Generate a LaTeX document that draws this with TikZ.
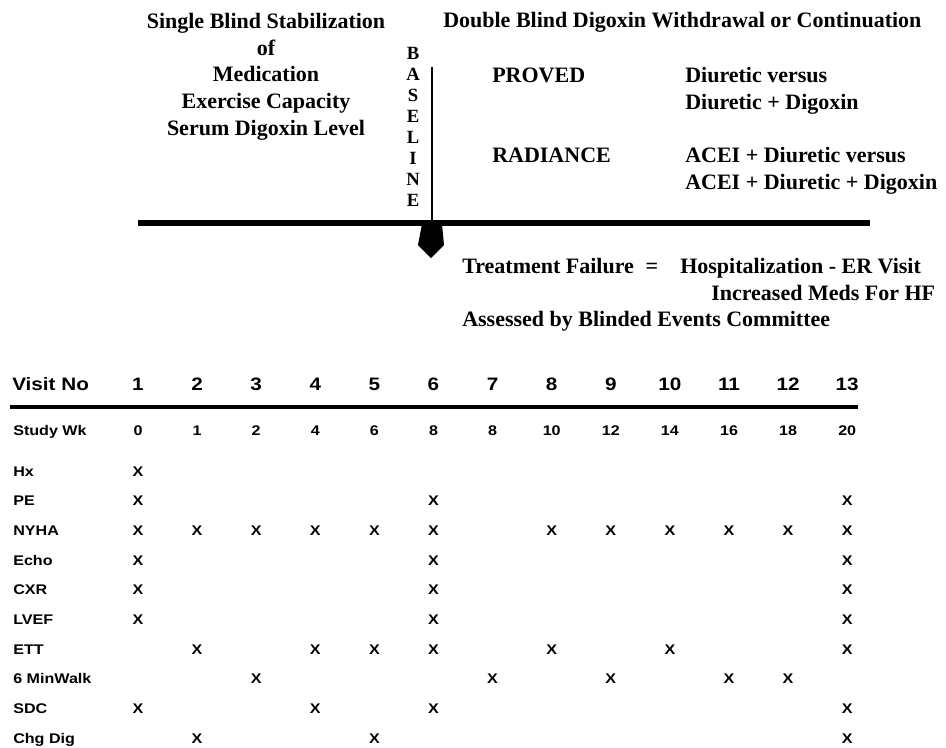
\documentclass[tikz,border=0pt]{standalone}
\usepackage{fontspec}
\setmainfont{Liberation Serif}
\newfontfamily\tabfont[FakeStretch=1.15]{Liberation Sans}
\begin{document}
\begin{tikzpicture}[x=0.75pt, y=-0.75pt,
    head/.style={font=\bfseries\fontsize{16.5}{19}\selectfont, inner sep=0pt, anchor=base},
    headw/.style={head, anchor=base west},
    letter/.style={font=\bfseries\fontsize{14}{16}\selectfont, inner sep=0pt, anchor=base},
    visit/.style={font=\tabfont\bfseries\fontsize{13.5}{15}\selectfont, inner sep=0pt, anchor=base},
    cell/.style={font=\tabfont\bfseries\fontsize{10.5}{12}\selectfont, inner sep=0pt, anchor=base}]

    \useasboundingbox (0,0) rectangle (946,747);

    % Single blind phase
    \node[head] (single) at (266,28) {Single Blind Stabilization};
    \node[head] (of) at (266,55) {of};
    \node[head] (med) at (266,81) {Medication};
    \node[head] (exc) at (266,108) {Exercise Capacity};
    \node[head] (sdl) at (266,135) {Serum Digoxin Level};

    % Double blind phase
    \node[headw] (double) at (443,27) {Double Blind Digoxin Withdrawal or Continuation};
    \node[headw] (proved) at (492,82) {PROVED};
    \node[headw] (provedA) at (685,82) {Diuretic versus};
    \node[headw] (provedB) at (685,109) {Diuretic + Digoxin};
    \node[headw] (radiance) at (492,162) {RADIANCE};
    \node[headw] (radianceA) at (685,162) {ACEI + Diuretic versus};
    \node[headw] (radianceB) at (685,189) {ACEI + Diuretic + Digoxin};

    % Baseline marker
    \foreach \ch [count=\k from 0] in {B,A,S,E,L,I,N,E}
        \node[letter] (bl\k) at (413,{59+21.1*\k}) {\ch};
    \coordinate (top) at (432,67);
    \coordinate (base) at (432,223);
    \coordinate (barL) at (138,223);
    \coordinate (barR) at (870,223);
    \draw[line width=2.2pt] (top) -- (base);
    \draw[line width=5pt] (barL) -- (barR);
    \fill (422,224) -- (442,224) -- (444,245) -- (431,258) -- (418,245) -- cycle;

    % Treatment failure
    \node[headw] (tf) at (462,273) {Treatment Failure};
    \node[head] (eq) at (652,273) {=};
    \node[headw] (hosp) at (680,273) {Hospitalization - ER Visit};
    \node[headw] (meds) at (711,300) {Increased Meds For HF};
    \node[headw] (assessed) at (462,326) {Assessed by Blinded Events Committee};

    % Visit table
    \node[visit, anchor=base west] (visitno) at (12,390) {Visit No};
    \node[cell, anchor=base west] (studywk) at (13,435) {Study Wk};
    \foreach \w [count=\i] in {0,1,2,4,6,8,8,10,12,14,16,18,20} {
        \node[visit] (v\i) at ({138+59.1*(\i-1)},390) {\i};
        \node[cell] (w\i) at ({138+59.1*(\i-1)},435) {\w};
    }
    \coordinate (lineL) at (10,407);
    \coordinate (lineR) at (858,407);
    \draw[line width=3pt] (lineL) -- (lineR);

    \foreach \lab/\cols [count=\r from 0] in {Hx/{1}, PE/{1,6,13},
        NYHA/{1,2,3,4,5,6,8,9,10,11,12,13}, Echo/{1,6,13}, CXR/{1,6,13},
        LVEF/{1,6,13}, ETT/{2,4,5,6,8,10,13}, 6 MinWalk/{3,7,9,11,12},
        SDC/{1,4,6,13}, Chg Dig/{2,5,13}} {
        \node[cell, anchor=base west] (row\r) at (13,{476+29.7*\r}) {\lab};
        \foreach \c in \cols
            \node[cell] (x\r-\c) at ({138+59.1*(\c-1)},{476+29.7*\r}) {X};
    }

\end{tikzpicture}
\end{document}
